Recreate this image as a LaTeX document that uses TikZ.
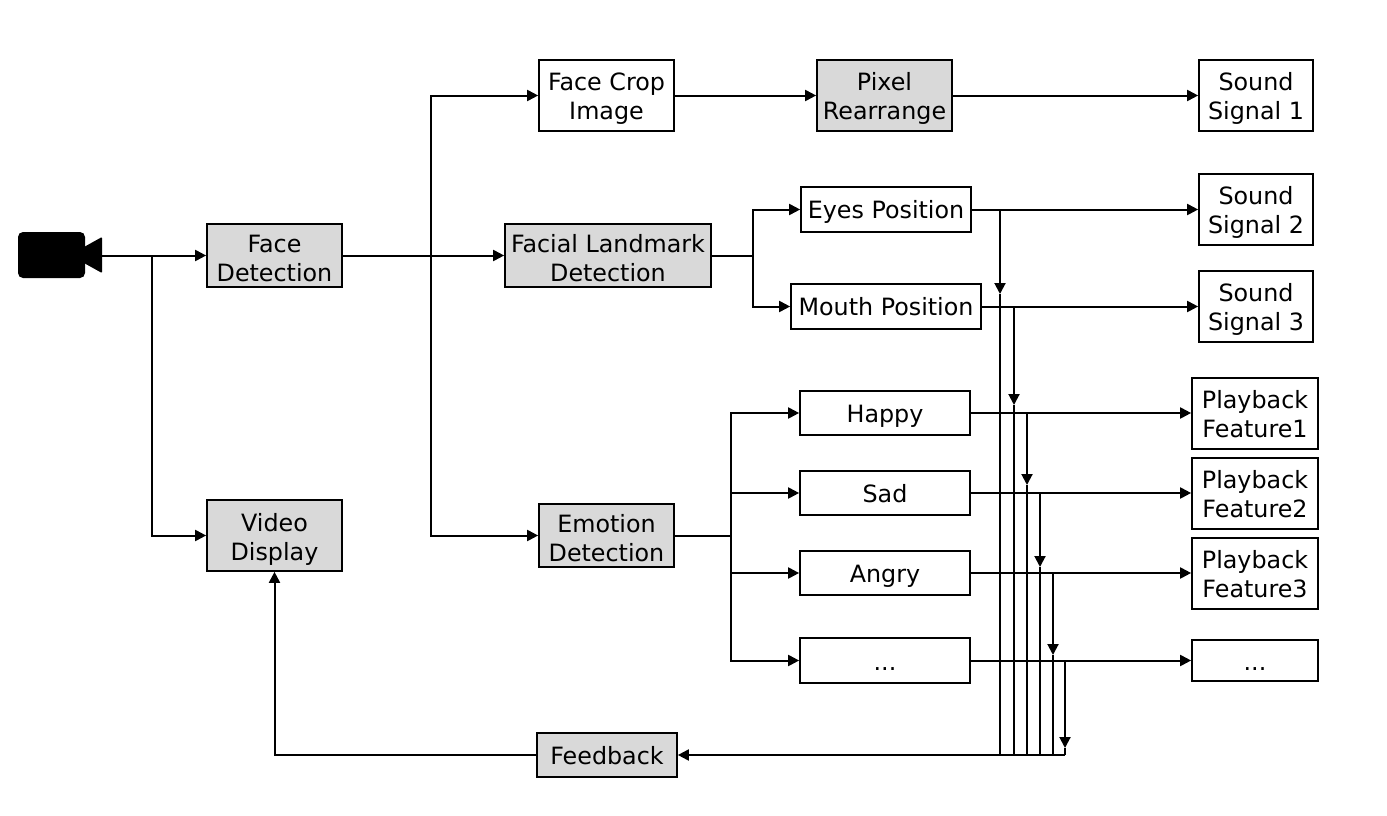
\documentclass[tikz,border=0pt]{standalone}
\usepackage{fontspec}
\setmainfont{DejaVu Sans}
\usetikzlibrary{arrows.meta,calc}
\tikzset{
  box/.style={draw=black,line width=1.7pt,inner sep=0pt,font=\fontsize{23.8}{29}\selectfont,text=black},
  grey/.style={box,fill=boxgrey},
  wire/.style={draw=black,line width=2pt},
  arr/.style={wire,-{Triangle[length=11pt,width=11pt]}}
}
\definecolor{boxgrey}{HTML}{D9D9D9}
\newcommand{\bx}[8][4pt]{\node[#7,minimum width={(#5-#3)*1pt},minimum height={(#6-#4)*1pt}] (#2) at ({(#3+#5)/2},{(#4+#6)/2}) {\raisebox{-#1}[\height][\depth]{\begin{tabular}{@{}c@{}}#8\end{tabular}}};}
\begin{document}
\begin{tikzpicture}[x=1pt,y=-1pt]
\useasboundingbox (0,0) rectangle (1387,816);
% camera
\fill[black,rounded corners=5pt] (18,232) rectangle (85,278);
\fill[black,rounded corners=1pt] (84,247) -- (102,237) -- (102,273) -- (84,263) -- cycle;
\coordinate (cam) at (102,255.5);
% nodes
\bx[6pt]{fd}{207}{224}{342}{287}{grey}{Face\\Detection}
\bx[4.5pt]{vd}{207}{500}{342}{571}{grey}{Video\\Display}
\bx{fc}{539}{60}{674}{131}{box}{Face Crop\\Image}
\bx{pr}{817}{60}{952}{131}{grey}{Pixel\\Rearrange}
\bx{s1}{1199}{60}{1313}{131}{box}{Sound\\Signal 1}
\bx[6pt]{fl}{505}{224}{711}{287}{grey}{Facial Landmark\\Detection}
\bx[3pt]{ey}{801}{187}{971}{232}{box}{Eyes Position}
\bx[3pt]{mo}{791}{284}{981}{329}{box}{Mouth Position}
\bx{s2}{1199}{174}{1313}{245}{box}{Sound\\Signal 2}
\bx{s3}{1199}{271}{1313}{342}{box}{Sound\\Signal 3}
\bx[6pt]{ed}{539}{504}{674}{567}{grey}{Emotion\\Detection}
\bx{ha}{800}{391}{970}{435}{box}{Happy}
\bx{sa}{800}{471}{970}{515}{box}{Sad}
\bx{an}{800}{551}{970}{595}{box}{Angry}
\bx{do}{800}{638}{970}{683}{box}{...}
\bx{p1}{1192}{378}{1318}{449}{box}{Playback\\Feature1}
\bx{p2}{1192}{458}{1318}{529}{box}{Playback\\Feature2}
\bx{p3}{1192}{538}{1318}{609}{box}{Playback\\Feature3}
\bx{pd}{1192}{640}{1318}{681}{box}{...}
\bx{fb}{537}{733}{677}{777}{grey}{Feedback}
% left part
\coordinate (jc) at (152,255.5);
\draw[arr] (cam) -- (fd.west);
\draw[arr] (jc) |- (vd.west);
\coordinate (jf) at (431,255.5);
\draw[arr] (fd.east) -- (fl.west);
\draw[arr] (jf) |- (fc.west);
\draw[arr] (jf) |- (ed.west);
\draw[arr] (fc.east) -- (pr.west);
\draw[arr] (pr.east) -- (s1.west);
% landmarks
\coordinate (jl) at (753,255.5);
\draw[wire] (fl.east) -- (jl);
\draw[arr] (jl) |- (ey.west);
\draw[arr] (jl) |- (mo.west);
\draw[arr] (ey.east) -- (s2.west);
\draw[arr] (mo.east) -- (s3.west);
% emotions
\coordinate (je) at (731,535.5);
\draw[wire] (ed.east) -- (je);
\draw[arr] (je) |- (ha.west);
\draw[arr] (je) |- (sa.west);
\draw[arr] (je) |- (an.west);
\draw[arr] (je) |- (do.west);
\draw[arr] (ha.east) -- (ha.east -| p1.west);
\draw[arr] (sa.east) -- (sa.east -| p2.west);
\draw[arr] (an.east) -- (an.east -| p3.west);
\draw[arr] (do.east) -- (do.east -| pd.west);
% feedback collectors
\coordinate (b0) at (1000,755);
\coordinate (b1) at (1014,755);
\coordinate (b2) at (1027,755);
\coordinate (b3) at (1040,755);
\coordinate (b4) at (1053,755);
\coordinate (b5) at (1065,755);
\foreach \src/\bot/\ya in {ey/b0/294,mo/b1/405,ha/b2/485,sa/b3/567,an/b4/655,do/b5/748}{
  \coordinate (t) at (\src.east -| \bot);
  \coordinate (m) at (\bot |- 0,\ya);
  \draw[arr] (t) -- (m);
  \draw[wire] (m) -- (\bot);
}
\draw[arr] (b5) -- (fb.east);
\draw[arr] (fb.west) -| (vd.south);
\end{tikzpicture}
\end{document}
